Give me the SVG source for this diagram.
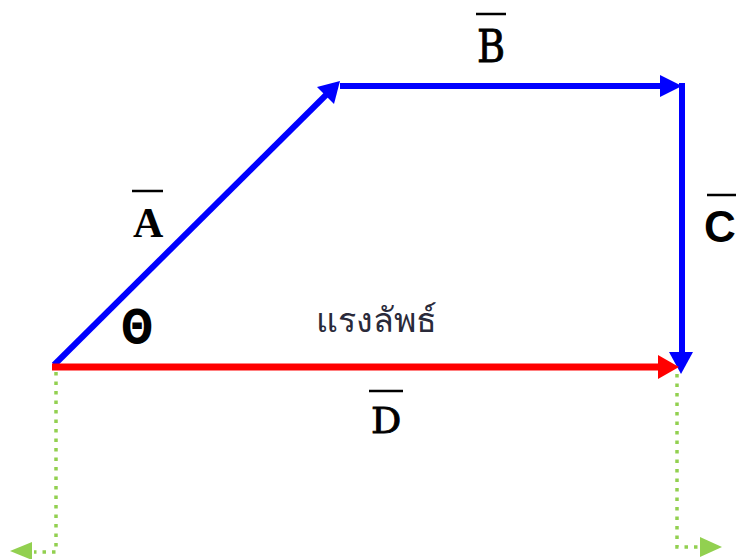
<svg xmlns="http://www.w3.org/2000/svg" width="736" height="559" viewBox="0 0 736 559">
<style>
.blue{stroke:#0000FF;stroke-width:6;fill:none}
.red{stroke:#FF0000;stroke-width:7;fill:none}
.green{stroke:#92D050;stroke-width:3.5;fill:none;stroke-dasharray:3.5 6}
.hb{fill:#0000FF}
.hr{fill:#FF0000}
.hg{fill:#92D050}
.bar{stroke:#000;stroke-width:2.5}
.lbl{fill:#000}
.thick{stroke:#000;stroke-width:0.9}
</style>
<rect width="736" height="559" fill="#fff"/>
<g id="connectors">
  <line class="blue" x1="54" y1="365" x2="327" y2="94"/>
  <path class="hb" d="M340,81 L334,104 L317,87 Z"/>
  <line class="blue" x1="340" y1="86" x2="662" y2="86"/>
  <path class="hb" d="M682,86 L660,75 L660,97 Z"/>
  <line class="blue" x1="682" y1="83" x2="682" y2="355"/>
  <path class="hb" d="M681,374 L669,352 L693,352 Z"/>
  <line class="red" x1="52" y1="367" x2="660" y2="367"/>
  <path class="hr" d="M679,367 L658,355 L658,379 Z"/>
  <polyline class="green" points="56,372 56,552 34,552"/>
  <path class="hg" d="M10,551 L32,542 L32,560 Z"/>
  <polyline class="green" points="677,374 677,547 700,547"/>
  <path class="hg" d="M722,547 L700,537 L700,557 Z"/>
</g>
<g id="labelA">
  <line class="bar" x1="132" y1="191" x2="163" y2="191"/>
  <text class="lbl" x="133" y="237" font-family="Liberation Serif" font-weight="bold" font-size="42">A</text>
</g>
<g id="labelB">
  <line class="bar" x1="476" y1="14" x2="506" y2="14"/>
  <text class="lbl thick" transform="translate(477,62) scale(0.85,1)" font-family="DejaVu Serif" font-size="45">B</text>
</g>
<g id="labelC">
  <line class="bar" x1="707" y1="195" x2="740" y2="195"/>
  <text class="lbl" x="704" y="242" font-family="Liberation Sans" font-weight="bold" font-size="44">C</text>
</g>
<g id="labelD">
  <line class="bar" x1="369" y1="391" x2="403" y2="391"/>
  <text class="lbl thick" transform="translate(371,433) scale(1.05,1)" font-family="DejaVu Serif" font-size="36">D</text>
</g>
<g id="theta">
  <text class="lbl" transform="translate(121,343) scale(0.9,1.1)" font-family="DejaVu Sans" font-weight="bold" font-size="42">Θ</text>
</g>
<g id="resultant">
  <text x="316" y="332" fill="#2a2a3a" font-family="Noto Sans, DejaVu Sans, sans-serif" font-size="34">แรงลัพธ์</text>
</g>
</svg>
